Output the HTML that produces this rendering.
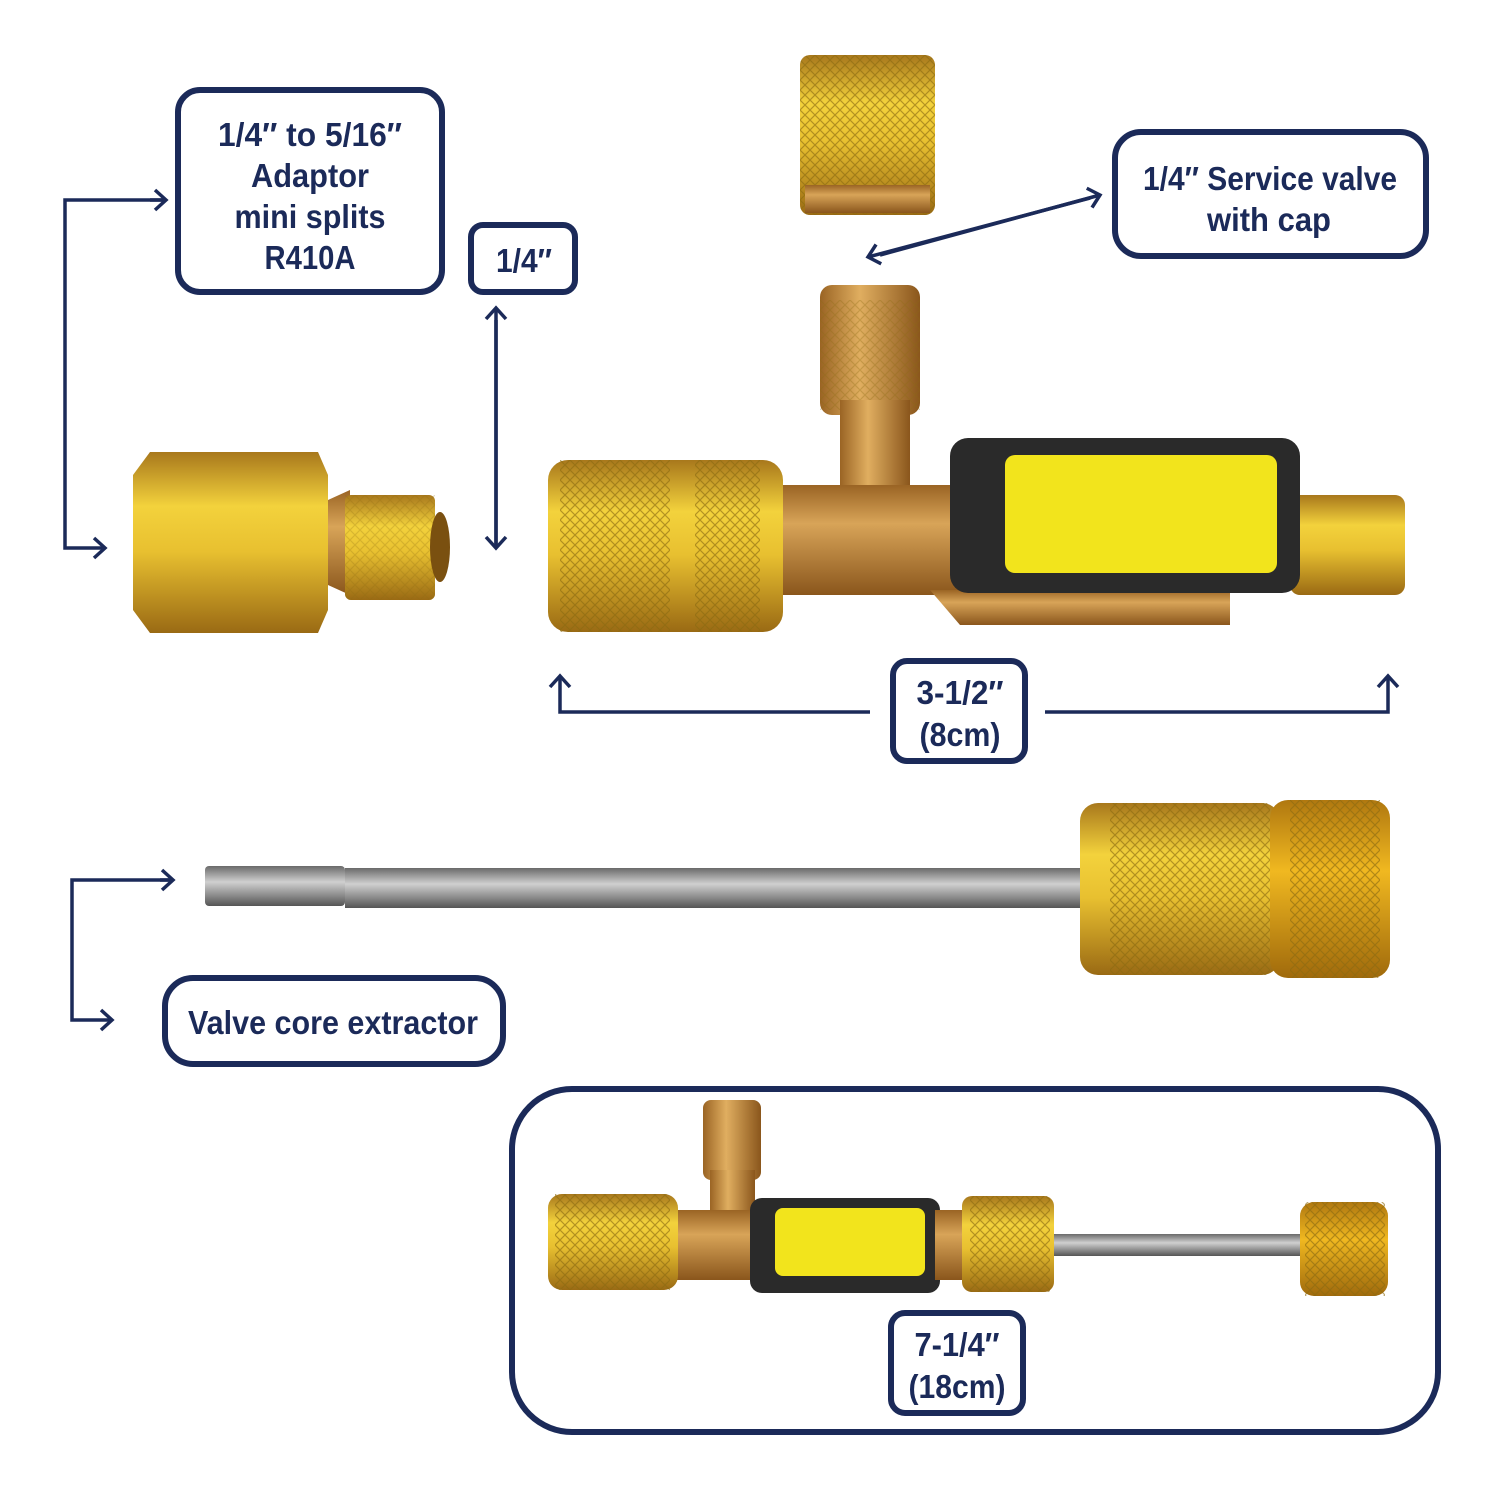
<!DOCTYPE html>
<html><head><meta charset="utf-8"><style>
html,body{margin:0;padding:0;background:#fff}
svg{display:block}
text{font-family:"Liberation Sans",sans-serif;font-weight:bold;fill:#1b2a59;font-size:33px;text-anchor:middle}
</style></head><body>
<svg width="1500" height="1500" viewBox="0 0 1500 1500" xmlns="http://www.w3.org/2000/svg">
<defs>
<linearGradient id="gold" x1="0" y1="0" x2="0" y2="1">
<stop offset="0" stop-color="#a8781c"/><stop offset="0.3" stop-color="#f3d23c"/><stop offset="0.55" stop-color="#e8c030"/><stop offset="1" stop-color="#9a6a14"/></linearGradient>
<linearGradient id="brass" x1="0" y1="0" x2="0" y2="1">
<stop offset="0" stop-color="#9a6424"/><stop offset="0.35" stop-color="#d8a458"/><stop offset="1" stop-color="#8a561c"/></linearGradient>
<linearGradient id="brassh" x1="0" y1="0" x2="1" y2="0">
<stop offset="0" stop-color="#9a6424"/><stop offset="0.4" stop-color="#e0ae60"/><stop offset="1" stop-color="#8a561c"/></linearGradient>
<linearGradient id="steel" x1="0" y1="0" x2="0" y2="1">
<stop offset="0" stop-color="#6a6a6a"/><stop offset="0.4" stop-color="#d0d0d0"/><stop offset="1" stop-color="#555"/></linearGradient>
<linearGradient id="orange" x1="0" y1="0" x2="0" y2="1">
<stop offset="0" stop-color="#b07810"/><stop offset="0.4" stop-color="#f0b820"/><stop offset="1" stop-color="#a06a0c"/></linearGradient>
<pattern id="knurl" width="10" height="10" patternUnits="userSpaceOnUse">
<path d="M0 0L10 10M10 0L0 10" stroke="#8a6a10" stroke-width="1.2" opacity="0.6"/></pattern>
<marker id="ah" markerWidth="24" markerHeight="24" refX="20" refY="12" orient="auto" markerUnits="userSpaceOnUse">
<path d="M9 2L20 12L9 22" fill="none" stroke="#1b2a59" stroke-width="3.5"/></marker>
</defs>

<g fill="none" stroke="#1b2a59" stroke-width="3.5">
<path d="M165 200H65V548H105" marker-end="url(#ah)"/>
<path d="M150 200H166" marker-end="url(#ah)"/>
<path d="M496 545V308" marker-end="url(#ah)"/><path d="M496 320V548" marker-end="url(#ah)"/>
<path d="M880 255L1100 195" marker-end="url(#ah)"/><path d="M1090 198L868 257" marker-end="url(#ah)"/>
<path d="M870 712H560V676" marker-end="url(#ah)"/>
<path d="M1045 712H1388V676" marker-end="url(#ah)"/>
<path d="M172 880H72V1020H112" marker-end="url(#ah)"/>
<path d="M160 880H173" marker-end="url(#ah)"/>
<path d="M870 1384H556V1346" marker-end="url(#ah)"/>
<path d="M1043 1384H1388V1346" marker-end="url(#ah)"/>
</g>

<g fill="#fff" stroke="#1b2a59" stroke-width="6">
<rect x="178" y="90" width="264" height="202" rx="22"/>
<rect x="471" y="225" width="104" height="67" rx="12"/>
<rect x="1115" y="132" width="311" height="124" rx="26"/>
<rect x="893" y="661" width="132" height="100" rx="14"/>
<rect x="165" y="978" width="338" height="86" rx="28"/>
<rect x="512" y="1089" width="926" height="343" rx="60"/>
<rect x="891" y="1313" width="132" height="100" rx="14"/>
</g>

<g lengthAdjust="spacingAndGlyphs">
<text x="310" y="146" textLength="184" lengthAdjust="spacingAndGlyphs">1/4″ to 5/16″</text>
<text x="310" y="187" textLength="118" lengthAdjust="spacingAndGlyphs">Adaptor</text>
<text x="310" y="228" textLength="151" lengthAdjust="spacingAndGlyphs">mini splits</text>
<text x="310" y="269" textLength="91" lengthAdjust="spacingAndGlyphs">R410A</text>
<text x="524" y="272" textLength="56" lengthAdjust="spacingAndGlyphs">1/4″</text>
<text x="1270" y="190" textLength="254" lengthAdjust="spacingAndGlyphs">1/4″ Service valve</text>
<text x="1269" y="231" textLength="124" lengthAdjust="spacingAndGlyphs">with cap</text>
<text x="960" y="704" textLength="87" lengthAdjust="spacingAndGlyphs">3-1/2″</text>
<text x="960" y="746" textLength="81" lengthAdjust="spacingAndGlyphs">(8cm)</text>
<text x="333" y="1034" textLength="290" lengthAdjust="spacingAndGlyphs">Valve core extractor</text>
<text x="957" y="1356" textLength="85" lengthAdjust="spacingAndGlyphs">7-1/4″</text>
<text x="957" y="1398" textLength="97" lengthAdjust="spacingAndGlyphs">(18cm)</text>
</g>

<!-- cap -->
<rect x="800" y="55" width="135" height="160" rx="10" fill="url(#gold)"/>
<rect x="800" y="55" width="135" height="160" rx="10" fill="url(#knurl)"/>
<rect x="805" y="185" width="125" height="28" fill="url(#brass)"/>

<!-- adaptor -->
<path d="M133 475L150 452H318L328 475V610L318 633H150L133 610Z" fill="url(#gold)"/>
<path d="M328 500L350 490V595L328 585Z" fill="url(#brass)"/>
<rect x="345" y="495" width="90" height="105" rx="6" fill="url(#gold)"/>
<rect x="345" y="495" width="90" height="105" fill="url(#knurl)" opacity="0.4"/>
<ellipse cx="440" cy="547" rx="10" ry="35" fill="#7a5010"/>

<!-- service valve -->
<rect x="820" y="285" width="100" height="130" rx="12" fill="url(#brassh)"/>
<rect x="820" y="300" width="100" height="110" fill="url(#knurl)" opacity="0.5"/>
<rect x="840" y="400" width="70" height="110" fill="url(#brassh)"/>
<rect x="760" y="485" width="230" height="110" rx="10" fill="url(#brass)"/>
<path d="M930 590H1230V625H960Z" fill="url(#brass)"/>
<rect x="548" y="460" width="235" height="172" rx="20" fill="url(#gold)"/>
<rect x="560" y="460" width="110" height="172" fill="url(#knurl)"/>
<rect x="695" y="460" width="65" height="172" fill="url(#knurl)"/>
<rect x="1290" y="495" width="115" height="100" rx="10" fill="url(#gold)"/>
<rect x="950" y="438" width="350" height="155" rx="18" fill="#2a2a2a"/>
<rect x="1005" y="455" width="272" height="118" rx="10" fill="#f2e41c"/>

<!-- extractor -->
<rect x="205" y="866" width="140" height="40" rx="4" fill="url(#steel)"/>
<rect x="345" y="868" width="740" height="40" fill="url(#steel)"/>
<rect x="1080" y="803" width="200" height="172" rx="18" fill="url(#gold)"/>
<rect x="1110" y="803" width="160" height="172" fill="url(#knurl)"/>
<rect x="1270" y="800" width="120" height="178" rx="18" fill="url(#orange)"/>
<rect x="1290" y="800" width="90" height="178" fill="url(#knurl)"/>

<!-- assembled -->
<rect x="703" y="1100" width="58" height="80" rx="8" fill="url(#brassh)"/>
<rect x="710" y="1170" width="45" height="60" fill="url(#brassh)"/>
<rect x="670" y="1210" width="100" height="70" fill="url(#brass)"/>
<rect x="548" y="1194" width="130" height="96" rx="14" fill="url(#gold)"/>
<rect x="555" y="1194" width="115" height="96" fill="url(#knurl)"/>
<rect x="750" y="1198" width="190" height="95" rx="12" fill="#2a2a2a"/>
<rect x="775" y="1208" width="150" height="68" rx="8" fill="#f2e41c"/>
<rect x="935" y="1210" width="35" height="70" fill="url(#brass)"/>
<rect x="962" y="1196" width="92" height="96" rx="10" fill="url(#gold)"/>
<rect x="970" y="1196" width="80" height="96" fill="url(#knurl)"/>
<rect x="1054" y="1234" width="260" height="22" fill="url(#steel)"/>
<rect x="1300" y="1202" width="88" height="94" rx="14" fill="url(#orange)"/>
<rect x="1305" y="1202" width="80" height="94" fill="url(#knurl)"/>
</svg>
</body></html>
